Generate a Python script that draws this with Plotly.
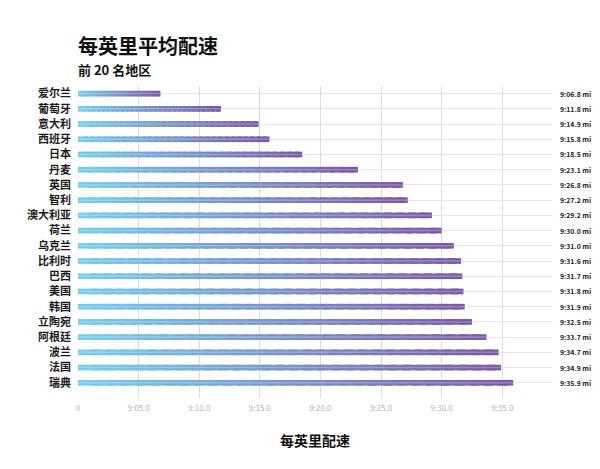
import plotly.graph_objects as go

countries = ["爱尔兰", "葡萄牙", "意大利", "西班牙", "日本", "丹麦", "英国", "智利", "澳大利亚", "荷兰",
             "乌克兰", "比利时", "巴西", "美国", "韩国", "立陶宛", "阿根廷", "波兰", "法国", "瑞典"]
# pace seconds beyond 9:00 per mile
pace_seconds = [6.8, 11.8, 14.9, 15.8, 18.5, 23.1, 26.8, 27.2, 29.2, 30.0,
                31.0, 31.6, 31.7, 31.8, 31.9, 32.5, 33.7, 34.7, 34.9, 35.9]
pace_labels = ["9:06.8 mi", "9:11.8 mi", "9:14.9 mi", "9:15.8 mi", "9:18.5 mi", "9:23.1 mi", "9:26.8 mi",
               "9:27.2 mi", "9:29.2 mi", "9:30.0 mi", "9:31.0 mi", "9:31.6 mi", "9:31.7 mi", "9:31.8 mi",
               "9:31.9 mi", "9:32.5 mi", "9:33.7 mi", "9:34.7 mi", "9:34.9 mi", "9:35.9 mi"]
x_tickvals = [0, 5, 10, 15, 20, 25, 30, 35]
x_ticktext = ["0", "9:05.0", "9:10.0", "9:15.0", "9:20.0", "9:25.0", "9:30.0", "9:35.0"]

FONT = "Noto Sans CJK SC, Noto Sans, sans-serif"
OFF = 8  # page body margin
W, H = 600 - 2 * OFF, 469 - 2 * OFF
L, T = 77.6 - OFF, 85.5 - OFF
R = W - (552 - OFF)
B = H - (398 - OFF)

c0 = (116, 206, 236)
c1 = (122, 86, 166)
N = 30

fig = go.Figure()
for k in range(N):
    t = (k + 0.5) / N
    col = tuple(round(c0[i] + (c1[i] - c0[i]) * t) for i in range(3))
    end = min(k + 1.6, N)
    fig.add_trace(go.Bar(
        orientation="h",
        y=countries,
        x=[v * (end - k) / N for v in pace_seconds],
        base=[v * k / N for v in pace_seconds],
        width=0.37,
        marker=dict(color="rgb(%d,%d,%d)" % col, line=dict(width=0)),
        hoverinfo="skip",
        showlegend=False,
    ))
# subtle highlight stripe
fig.add_trace(go.Bar(
    orientation="h", y=countries, x=pace_seconds, base=[0] * len(pace_seconds),
    width=0.1, marker=dict(color="rgba(255,255,255,0.25)", line=dict(width=0)),
    hoverinfo="skip", showlegend=False,
))

annotations = []
pw = W - L - R
ph = H - T - B


def py(screen_y):
    return (H - (screen_y - OFF) - B) / ph


def px(screen_x):
    return (screen_x - OFF - L) / pw


for c, lab in zip(countries, pace_labels):
    annotations.append(dict(
        xref="paper", yref="y", x=px(558.5), y=c, text=lab, showarrow=False,
        xanchor="left", yanchor="middle",
        font=dict(family=FONT, size=6.9, color="#222", weight="bold"),
    ))
annotations.append(dict(
    xref="paper", yref="paper", x=px(75.5), y=py(44.5), text="每英里平均配速", showarrow=False,
    xanchor="left", yanchor="middle", font=dict(family=FONT, size=20, color="#111", weight="bold"),
))
annotations.append(dict(
    xref="paper", yref="paper", x=px(75.5), y=py(68.5), text="前 20 名地区", showarrow=False,
    xanchor="left", yanchor="middle", font=dict(family=FONT, size=13, color="#111", weight="bold"),
))
annotations.append(dict(
    xref="paper", yref="paper", x=0.5, y=py(440), text="每英里配速", showarrow=False,
    xanchor="center", yanchor="middle", font=dict(family=FONT, size=14, color="#111", weight="bold"),
))

fig.update_layout(
    width=W, height=H,
    margin=dict(l=L, r=R, t=T, b=B, pad=0),
    paper_bgcolor="white", plot_bgcolor="white",
    barmode="overlay",
    annotations=annotations,
    font=dict(family=FONT),
)
fig.update_xaxes(
    range=[0, 39.1], tickvals=x_tickvals, ticktext=x_ticktext,
    showgrid=True, gridcolor="#dcdcdc", gridwidth=1, zeroline=False, showline=False,
    ticks="", ticklabelstandoff=4,
    tickfont=dict(family=FONT, size=8, color="#b5b5b5"),
)
fig.update_yaxes(
    type="category", categoryorder="array", categoryarray=countries,
    range=[20.0, -0.5],
    showgrid=True, gridcolor="#e6e6e6", gridwidth=1, zeroline=False, showline=False,
    ticks="", ticklabelstandoff=6,
    tickfont=dict(family=FONT, size=11, color="#1a1a1a", weight="bold"),
)

fig.write_html("out.html")
